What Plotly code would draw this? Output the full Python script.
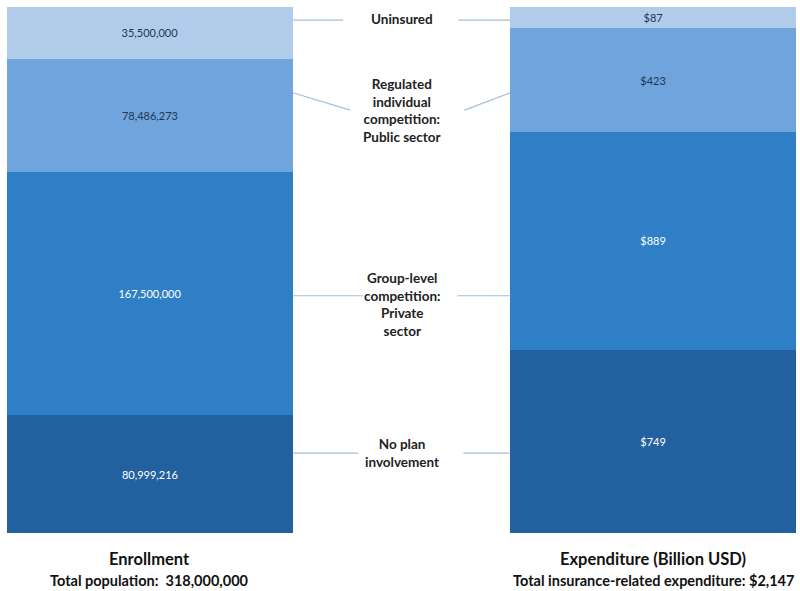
import plotly.graph_objects as go

# Market segments, bottom to top of each stacked column
segments = [
    "No plan involvement",
    "Group-level competition: Private sector",
    "Regulated individual competition: Public sector",
    "Uninsured",
]
segment_labels = [
    "No plan<br>involvement",
    "Group-level<br>competition:<br>Private<br>sector",
    "Regulated<br>individual<br>competition:<br>Public sector",
    "Uninsured",
]
enrollment = [80999216, 167500000, 78486273, 35500000]
expenditure = [749, 889, 423, 87]  # billion USD

columns = ["Enrollment", "Expenditure (Billion USD)"]
column_subtitles = [
    "Total population:  318,000,000",
    "Total insurance-related expenditure: $2,147",
]

colors = ["#22609f", "#2f7fc6", "#6fa4dc", "#b1cbea"]
text_colors = ["#ffffff", "#ffffff", "#1f3656", "#1f3656"]

BAR_W = 0.568
FONT = "Lato, 'Open Sans', sans-serif"

fig = go.Figure()
for i, seg in enumerate(segments):
    vals = [enrollment[i], expenditure[i]]
    texts = [f"{enrollment[i]:,}", f"${expenditure[i]:,}"]
    fig.add_trace(go.Bar(
        x=[0, 1], y=vals, name=seg, width=BAR_W,
        marker=dict(color=colors[i], line=dict(width=0)),
        text=texts, textposition="inside", insidetextanchor="middle",
        textangle=0, constraintext="none",
        textfont=dict(color=text_colors[i], size=11, family=FONT),
        hoverinfo="name+text",
    ))

# Middle labels and connector lines (y in percent of column)
label_y = [15.2, 43.4, 80.4, 97.7]
left_edge, right_edge = BAR_W / 2, 1 - BAR_W / 2
connectors = [
    # (left bar y, left end x, left end y, right end x, right end y, right bar y)
    (15.2, 0.414, 15.2, 0.623, 15.2, 15.2),
    (45.1, 0.424, 45.1, 0.611, 45.1, 45.1),
    (83.7, 0.398, 80.4, 0.625, 80.4, 83.7),
    (97.5, 0.384, 97.5, 0.613, 97.5, 97.5),
]
line_style = dict(color="#a5bed9", width=1.2)
shapes = []
for ly, lx2, ly2, rx1, ry1, ry in connectors:
    shapes.append(dict(type="line", xref="x", yref="y", x0=left_edge, y0=ly,
                       x1=lx2, y1=ly2, line=line_style))
    shapes.append(dict(type="line", xref="x", yref="y", x0=rx1, y0=ry1,
                       x1=right_edge, y1=ry, line=line_style))

annotations = []
for lbl, y in zip(segment_labels, label_y):
    annotations.append(dict(
        x=0.5, y=y, xref="x", yref="y", text=f"<b>{lbl}</b>", showarrow=False,
        font=dict(size=13.5, color="#222222", family=FONT), align="center",
        xanchor="center", yanchor="middle",
    ))

for xi, (title, sub) in enumerate(zip(columns, column_subtitles)):
    annotations.append(dict(
        x=xi, y=-0.05, xref="x", yref="paper", text=f"<b>{title}</b>",
        showarrow=False, font=dict(size=16.5, color="#111111", family=FONT),
        xanchor="center", yanchor="middle",
    ))
    annotations.append(dict(
        x=xi, y=-0.09, xref="x", yref="paper", text=f"<b>{sub}</b>",
        showarrow=False, font=dict(size=14.5, color="#111111", family=FONT),
        xanchor="center", yanchor="middle",
    ))

fig.update_layout(
    width=800, height=591,
    barmode="stack", barnorm="percent",
    margin=dict(l=7, r=4, t=7, b=58),
    paper_bgcolor="white", plot_bgcolor="white",
    showlegend=False,
    xaxis=dict(range=[-BAR_W / 2, 1 + BAR_W / 2], visible=False, fixedrange=True),
    yaxis=dict(range=[0, 100], visible=False, fixedrange=True),
    shapes=shapes, annotations=annotations,
)

fig.write_html("out.html")
